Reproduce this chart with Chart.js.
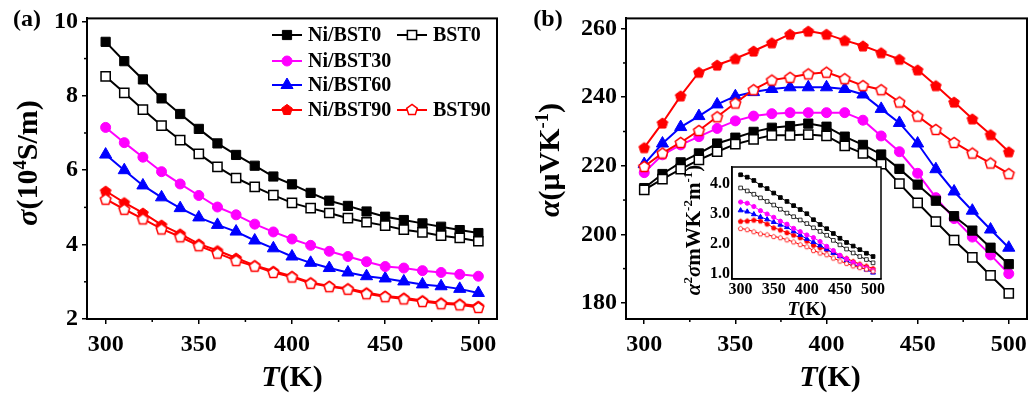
<!DOCTYPE html>
<html>
<head>
<meta charset="utf-8">
<script src="https://cdn.jsdelivr.net/npm/chart.js@4.4.0/dist/chart.umd.min.js"></script>
<style>
  html, body { margin: 0; padding: 0; background: #fff; }
  #wrap { position: relative; width: 1035px; height: 396px; overflow: hidden; }
  canvas { position: absolute; }
</style>
</head>
<body>
<div id="wrap">
  <canvas id="sigmaChart" width="517" height="396" style="left:0;top:0"></canvas>
  <canvas id="alphaChart" width="518" height="396" style="left:517px;top:0"></canvas>
  <canvas id="pfChart" width="210" height="180" style="left:680px;top:150px"></canvas>
</div>
<script>
// temperatures (K)
const temps = [300, 310, 320, 330, 340, 350, 360, 370, 380, 390, 400, 410, 420, 430, 440, 450, 460, 470, 480, 490, 500];

// (a) electrical conductivity, 10^4 S/m
const sigmaNiBST0  = [9.45, 8.93, 8.44, 7.93, 7.51, 7.11, 6.72, 6.41, 6.12, 5.83, 5.62, 5.39, 5.18, 5.04, 4.89, 4.75, 4.66, 4.57, 4.48, 4.39, 4.31];
const sigmaBST0    = [8.52, 8.08, 7.63, 7.20, 6.81, 6.44, 6.09, 5.79, 5.55, 5.33, 5.12, 4.98, 4.85, 4.71, 4.60, 4.51, 4.40, 4.33, 4.24, 4.18, 4.09];
const sigmaNiBST30 = [7.15, 6.74, 6.35, 5.96, 5.63, 5.32, 5.01, 4.80, 4.55, 4.34, 4.15, 3.98, 3.82, 3.68, 3.54, 3.41, 3.37, 3.30, 3.25, 3.20, 3.15];
const sigmaNiBST60 = [6.42, 6.00, 5.59, 5.27, 4.98, 4.73, 4.53, 4.35, 4.11, 3.90, 3.68, 3.51, 3.37, 3.25, 3.15, 3.09, 3.01, 2.93, 2.88, 2.81, 2.70];
const sigmaNiBST90 = [5.44, 5.13, 4.85, 4.53, 4.29, 4.02, 3.84, 3.64, 3.44, 3.29, 3.15, 2.98, 2.89, 2.82, 2.71, 2.62, 2.57, 2.50, 2.44, 2.41, 2.35];
const sigmaBST90   = [5.22, 4.95, 4.69, 4.42, 4.21, 3.97, 3.77, 3.57, 3.42, 3.25, 3.13, 2.96, 2.87, 2.80, 2.68, 2.60, 2.54, 2.47, 2.41, 2.38, 2.31];

// (b) Seebeck coefficient, uV/K
const alphaNiBST0  = [213.5, 217.6, 221.0, 223.6, 226.5, 228.2, 229.9, 231.1, 231.6, 232.3, 231.4, 228.5, 226.1, 223.3, 219.1, 214.5, 209.8, 205.3, 201.1, 196.1, 191.3];
const alphaBST0    = [213.0, 216.1, 219.0, 221.7, 224.1, 226.3, 227.7, 228.9, 228.9, 229.1, 228.7, 225.8, 223.6, 220.5, 214.8, 209.2, 203.7, 198.3, 193.3, 188.0, 182.8];
const alphaNiBST30 = [218.0, 223.2, 226.1, 228.5, 230.9, 233.1, 234.5, 235.2, 235.5, 235.5, 235.5, 235.5, 233.3, 228.7, 224.1, 217.8, 210.7, 204.6, 199.2, 194.0, 188.5];
const alphaNiBST60 = [220.5, 226.5, 231.3, 234.5, 237.9, 240.3, 241.5, 242.4, 242.9, 242.9, 242.9, 242.4, 240.8, 236.6, 232.5, 226.5, 219.0, 212.5, 206.9, 201.4, 196.1];
const alphaNiBST90 = [225.3, 232.5, 240.4, 247.3, 249.4, 251.3, 253.5, 255.9, 258.4, 259.3, 258.4, 256.6, 255.0, 253.0, 251.1, 248.0, 243.4, 238.6, 233.7, 229.1, 224.1];
const alphaBST90   = [219.8, 223.7, 226.8, 230.3, 234.3, 238.3, 242.2, 245.0, 245.8, 246.8, 247.3, 245.4, 243.4, 242.2, 238.6, 234.5, 230.6, 226.8, 223.7, 220.8, 217.7];

// inset: power factor, mW m^-1 K^-2
const pfNiBST0  = [4.31, 4.23, 4.12, 3.96, 3.85, 3.70, 3.55, 3.42, 3.28, 3.15, 3.01, 2.81, 2.65, 2.51, 2.35, 2.19, 2.05, 1.93, 1.81, 1.69, 1.58];
const pfBST0    = [3.87, 3.77, 3.66, 3.54, 3.42, 3.30, 3.16, 3.03, 2.91, 2.80, 2.68, 2.54, 2.42, 2.29, 2.12, 1.97, 1.83, 1.70, 1.58, 1.48, 1.37];
const pfNiBST30 = [3.40, 3.36, 3.25, 3.11, 3.00, 2.89, 2.76, 2.66, 2.52, 2.41, 2.30, 2.21, 2.08, 1.92, 1.78, 1.62, 1.50, 1.38, 1.29, 1.20, 1.12];
const pfNiBST60 = [3.12, 3.08, 2.99, 2.90, 2.82, 2.73, 2.64, 2.56, 2.42, 2.30, 2.17, 2.06, 1.95, 1.82, 1.70, 1.59, 1.44, 1.32, 1.23, 1.14, 1.04];
const pfNiBST90 = [2.76, 2.77, 2.80, 2.77, 2.67, 2.54, 2.47, 2.38, 2.30, 2.21, 2.10, 1.96, 1.88, 1.81, 1.71, 1.61, 1.52, 1.42, 1.33, 1.26, 1.18];
const pfBST90   = [2.52, 2.48, 2.41, 2.34, 2.31, 2.25, 2.21, 2.14, 2.07, 1.98, 1.91, 1.78, 1.70, 1.64, 1.53, 1.43, 1.35, 1.27, 1.21, 1.16, 1.09];

const seriesLabels = ['Ni/BST0', 'BST0', 'Ni/BST30', 'Ni/BST60', 'Ni/BST90', 'BST90'];

// tick labels
const tempTicks = [300, 350, 400, 450, 500];
const tempMinorTicks = [325, 375, 425, 475];
const sigmaTicks = [2, 4, 6, 8, 10];
const sigmaMinorTicks = [3, 5, 7, 9];
const alphaTicks = [180, 200, 220, 240, 260];
const alphaMinorTicks = [190, 210, 230, 250];
const pfTicks = [1.0, 2.0, 3.0, 4.0];

const FONT = "'Liberation Serif', 'Times New Roman', serif";
const seriesColors = ['#000000', '#000000', '#ff00ff', '#0000ff', '#ff0000', '#ff0000'];
const markerShapes = ['rect', 'rect', 'circle', 'triangle', 'pentagon', 'pentagon'];
const markerFilled = [true, false, true, true, true, false];

function shapePath(g, shape, x, y, r) {
    g.beginPath();
    if (shape === 'circle') {
        g.arc(x, y, r, 0, Math.PI * 2);
    } else if (shape === 'rect') {
        const s = r * Math.SQRT1_2;
        g.rect(x - s, y - s, 2 * s, 2 * s);
    } else {
        const n = shape === 'triangle' ? 3 : 5;
        for (let k = 0; k < n; k++) {
            const a = -Math.PI / 2 + k * 2 * Math.PI / n;
            const px = x + r * Math.cos(a), py = y + r * Math.sin(a);
            if (k) g.lineTo(px, py); else g.moveTo(px, py);
        }
    }
    g.closePath();
}

function drawMarker(g, m, x, y) {
    shapePath(g, m.shape, x, y, m.r);
    g.fillStyle = m.fill; g.fill();
    g.lineWidth = m.lw; g.strokeStyle = m.color; g.stroke();
}

// pentagon is no built-in pointStyle: paint it on a small canvas
function pentagonImage(m) {
    const s = Math.ceil(2 * m.r + 2 * m.lw + 2);
    const c = document.createElement('canvas');
    c.width = s; c.height = s;
    drawMarker(c.getContext('2d'), m, s / 2, s / 2 + m.r * 0.1);
    return c;
}

function markerSpec(i, big) {
    const sizes = big ? { rect: 6.5, circle: 5, triangle: 7, pentagon: 5.6 }
                      : { rect: 2.6, circle: 2.1, triangle: 2.8, pentagon: 2.4 };
    const shape = markerShapes[i];
    const color = seriesColors[i];
    return {
        shape, color,
        r: sizes[shape],
        fill: markerFilled[i] ? color : '#ffffff',
        lw: markerFilled[i] ? 1 : (big ? 1.5 : 0.8)
    };
}

function buildDatasets(valueArrays, big) {
    return valueArrays.map((vals, i) => {
        const m = markerSpec(i, big);
        return {
            label: seriesLabels[i],
            data: temps.map((t, k) => ({ x: t, y: vals[k] })),
            borderColor: m.color,
            borderWidth: big ? 2 : 1,
            pointStyle: m.shape === 'pentagon' ? pentagonImage(m) : m.shape,
            pointRadius: m.r,
            pointBackgroundColor: m.fill,
            pointBorderColor: m.color,
            pointBorderWidth: m.lw,
            order: markerFilled[i] ? 2 : 1,
            tension: 0,
            fill: false
        };
    });
}

// text with italic / superscript pieces
function drawRich(ctx, parts, x, y, size, angle) {
    const fontFor = p => (p.i ? 'italic ' : '') + 'bold ' + (p.sup ? size * 0.62 : size) + 'px ' + FONT;
    ctx.save();
    ctx.translate(x, y);
    ctx.rotate(angle || 0);
    ctx.textAlign = 'left';
    ctx.textBaseline = 'alphabetic';
    ctx.fillStyle = '#000';
    let total = 0;
    parts.forEach(p => { ctx.font = fontFor(p); total += ctx.measureText(p.t).width; });
    let cx = -total / 2;
    parts.forEach(p => {
        ctx.font = fontFor(p);
        ctx.fillText(p.t, cx, p.sup ? -size * 0.38 : 0);
        cx += ctx.measureText(p.t).width;
    });
    ctx.restore();
}

function drawLegend(ctx, lg) {
    lg.rows.forEach((row, r) => {
        row.forEach((si, c) => {
            const x0 = lg.colX[c], y = lg.rowY[r];
            const m = markerSpec(si, true);
            ctx.strokeStyle = m.color; ctx.lineWidth = 2;
            ctx.beginPath(); ctx.moveTo(x0, y); ctx.lineTo(x0 + lg.lineLen, y); ctx.stroke();
            drawMarker(ctx, m, x0 + lg.lineLen / 2, y);
            ctx.fillStyle = '#000';
            ctx.font = 'bold ' + lg.size + 'px ' + FONT;
            ctx.textAlign = 'left'; ctx.textBaseline = 'middle';
            ctx.fillText(seriesLabels[si], x0 + lg.lineLen + lg.gap, y + 1);
        });
    });
}

const decorPlugin = {
    id: 'decor',
    beforeDraw(chart, args, opts) {
        if (!opts.fillArea) return;
        const a = chart.chartArea, ctx = chart.ctx;
        ctx.save();
        ctx.fillStyle = '#fff';
        ctx.fillRect(a.left, a.top, a.right - a.left, a.bottom - a.top);
        ctx.restore();
    },
    afterDraw(chart, args, opts) {
        const ctx = chart.ctx, a = chart.chartArea;
        const xs = chart.scales.x, ys = chart.scales.y;
        ctx.save();
        ctx.strokeStyle = '#000';
        ctx.lineWidth = opts.frameWidth;
        ctx.strokeRect(a.left, a.top, a.right - a.left, a.bottom - a.top);
        ctx.lineWidth = 1.5;
        (opts.minorX || []).forEach(v => {
            const px = xs.getPixelForValue(v);
            ctx.beginPath(); ctx.moveTo(px, a.bottom); ctx.lineTo(px, a.bottom + opts.minorLen); ctx.stroke();
        });
        (opts.minorY || []).forEach(v => {
            const py = ys.getPixelForValue(v);
            ctx.beginPath(); ctx.moveTo(a.left, py); ctx.lineTo(a.left - opts.minorLen, py); ctx.stroke();
        });
        (opts.texts || []).forEach(t => drawRich(ctx, t.parts, t.x, t.y, t.size, t.angle));
        if (opts.legend) drawLegend(ctx, opts.legend);
        ctx.restore();
    }
};

function makeChart(id, datasets, cfg) {
    const axis = (min, max, tickVals, fmt, fit, pad) => ({
        type: 'linear', min, max,
        afterBuildTicks: s => { s.ticks = tickVals.map(v => ({ value: v })); },
        afterFit: fit,
        ticks: {
            font: { family: FONT, weight: 'bold', size: cfg.tickSize },
            color: '#000', padding: pad, maxRotation: 0, autoSkip: false,
            callback: fmt
        },
        grid: { drawOnChartArea: false, drawTicks: cfg.tickLen > 0, tickLength: cfg.tickLen, color: '#000', lineWidth: 1.5 },
        border: { display: true, color: '#000', width: cfg.decor.frameWidth }
    });
    return new Chart(document.getElementById(id), {
        type: 'line',
        data: { datasets },
        options: {
            responsive: false,
            animation: false,
            events: [],
            layout: { padding: cfg.padding },
            plugins: { legend: { display: false }, tooltip: { enabled: false }, decor: cfg.decor },
            scales: {
                x: axis(cfg.xMin, cfg.xMax, tempTicks, v => String(v), s => { s.height = cfg.xHeight; }, cfg.xPad),
                y: axis(cfg.yMin, cfg.yMax, cfg.yTicks, cfg.yFmt, s => { s.width = cfg.yWidth; }, cfg.yPad)
            }
        },
        plugins: [decorPlugin]
    });
}

const T_TITLE = [{ t: 'T', i: true }, { t: '(K)' }];

// (a) conductivity
makeChart('sigmaChart',
    buildDatasets([sigmaNiBST0, sigmaBST0, sigmaNiBST30, sigmaNiBST60, sigmaNiBST90, sigmaBST90], true),
    {
        padding: { top: 16, right: 20, left: 0, bottom: 0 },
        xMin: 290, xMax: 510, yMin: 2, yMax: 10.08,
        yTicks: sigmaTicks, yFmt: v => String(v),
        xHeight: 77, yWidth: 87, xPad: 6, yPad: 4,
        tickSize: 24, tickLen: 5,
        decor: {
            frameWidth: 2, minorLen: 3,
            minorX: tempMinorTicks, minorY: sigmaMinorTicks,
            texts: [
                { parts: [{ t: '(a)' }], x: 27, y: 26, size: 24 },
                { parts: T_TITLE, x: 292, y: 386, size: 30 },
                { parts: [{ t: 'σ', i: true }, { t: '(10' }, { t: '4', sup: true }, { t: 'S/m)' }], x: 37, y: 163, size: 30, angle: -Math.PI / 2 }
            ],
            legend: { rows: [[0, 1], [2], [3], [4, 5]], colX: [272, 397], rowY: [35, 61, 85, 110], lineLen: 30, gap: 6, size: 20 }
        }
    });

// (b) Seebeck coefficient
makeChart('alphaChart',
    buildDatasets([alphaNiBST0, alphaBST0, alphaNiBST30, alphaNiBST60, alphaNiBST90, alphaBST90], true),
    {
        padding: { top: 16, right: 3, left: 0, bottom: 0 },
        xMin: 290, xMax: 510, yMin: 175.3, yMax: 263.0,
        yTicks: alphaTicks, yFmt: v => String(v),
        xHeight: 77, yWidth: 109, xPad: 6, yPad: 4,
        tickSize: 24, tickLen: 5,
        decor: {
            frameWidth: 2, minorLen: 3,
            minorX: tempMinorTicks, minorY: alphaMinorTicks,
            texts: [
                { parts: [{ t: '(b)' }], x: 31, y: 26, size: 24 },
                { parts: T_TITLE, x: 313, y: 386, size: 30 },
                { parts: [{ t: 'α', i: true }, { t: '(μVK' }, { t: '-1', sup: true }, { t: ')' }], x: 42, y: 160, size: 30, angle: -Math.PI / 2 }
            ]
        }
    });

// inset: power factor
makeChart('pfChart',
    buildDatasets([pfNiBST0, pfBST0, pfNiBST30, pfNiBST60, pfNiBST90, pfBST90], false),
    {
        padding: { top: 17, right: 9, left: 0, bottom: 0 },
        xMin: 287, xMax: 512, yMin: 0.83, yMax: 4.57,
        yTicks: pfTicks, yFmt: v => v.toFixed(1),
        xHeight: 51, yWidth: 52, xPad: 1, yPad: 2,
        tickSize: 16, tickLen: 0,
        decor: {
            fillArea: true, frameWidth: 1.5, minorLen: 0,
            texts: [
                { parts: T_TITLE, x: 127, y: 165, size: 19 },
                { parts: [{ t: 'α', i: true }, { t: '2', sup: true }, { t: 'σ', i: true }, { t: 'mWK' }, { t: '-2', sup: true }, { t: 'm' }, { t: '-1', sup: true }, { t: ')' }], x: 20, y: 80, size: 21, angle: -Math.PI / 2 }
            ]
        }
    });
</script>
</body>
</html>
